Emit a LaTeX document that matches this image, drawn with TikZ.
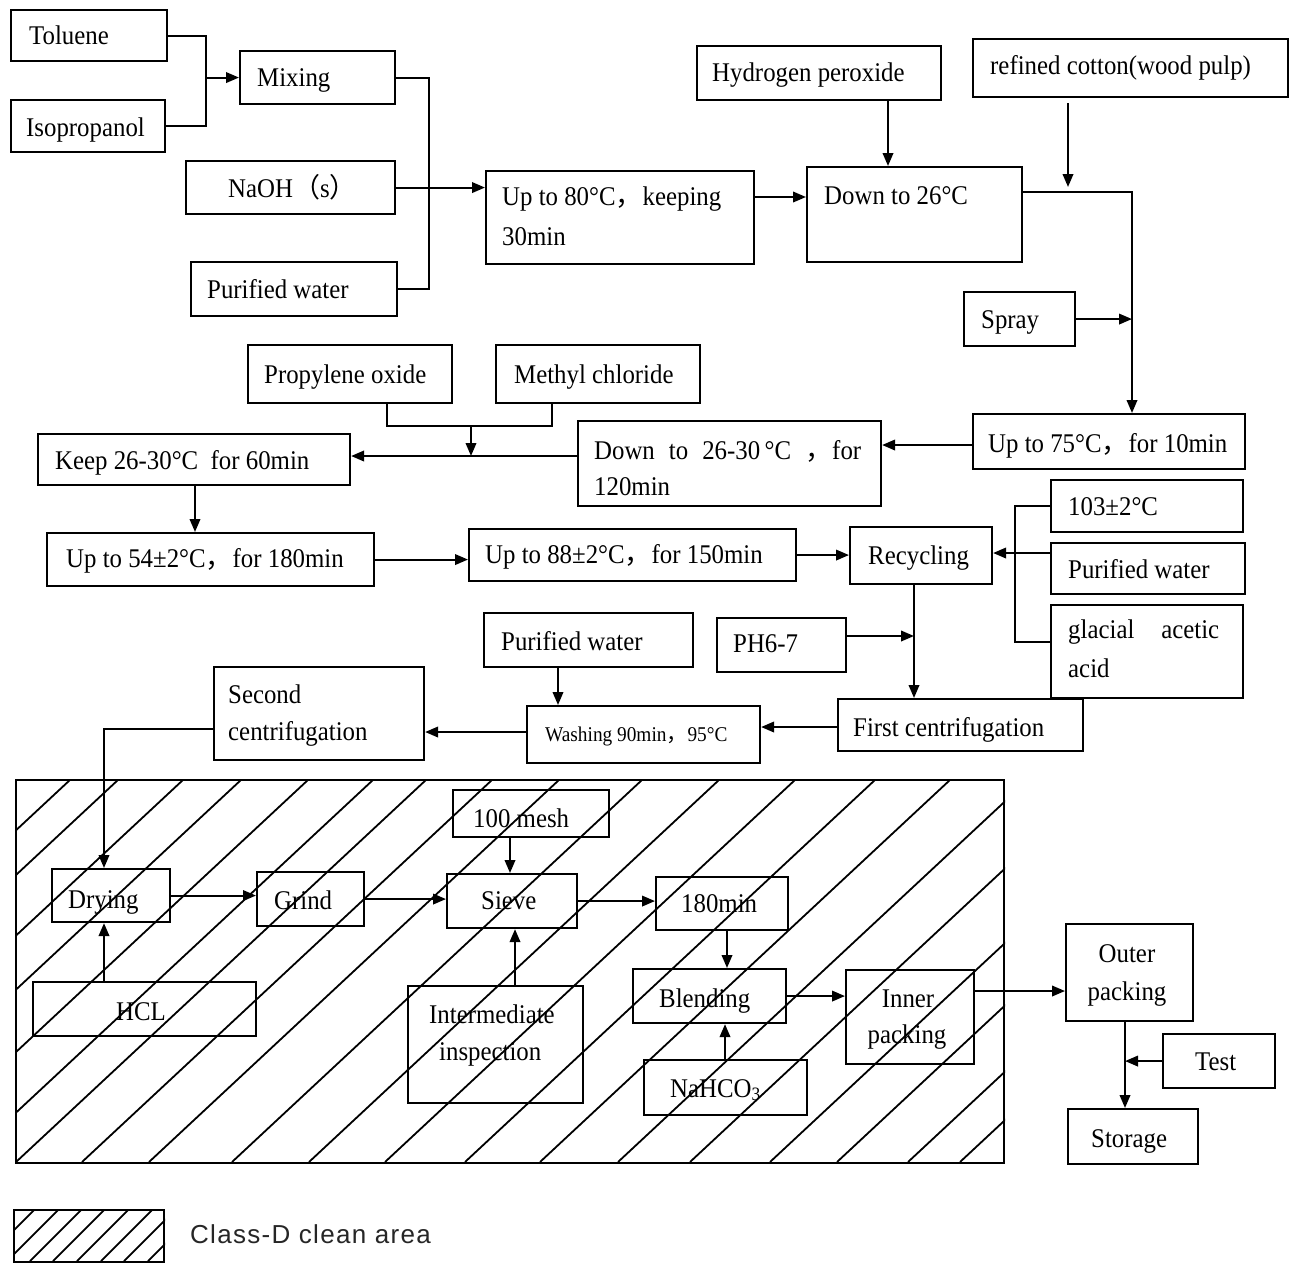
\documentclass[tikz,border=0pt]{standalone}
\usepackage{fontspec}
\setmainfont[FakeStretch=0.92]{Liberation Serif}
\newfontfamily\cjkf{Noto Sans CJK SC}
\newfontfamily\legf[LetterSpace=5]{Liberation Sans}
\usetikzlibrary{arrows.meta}
\newcommand\fw{{\cjkf ，}}
\newcommand\fwo{{\cjkf （}}
\newcommand\fwc{{\cjkf ）}}
\newcommand\bx[5]{\node[box, minimum width={#4-#2}, minimum height={#5-#3}] (#1) at (#2,#3) {};}
\begin{document}
\begin{tikzpicture}[x=1pt,y=-1pt,
  box/.style={draw, line width=2.1pt, inner sep=0pt, anchor=north west},
  txt/.style={inner sep=0pt, anchor=base west, font=\fontsize{27}{30}\selectfont},
  ln/.style={line width=2.1pt},
  arr/.style={line width=2.1pt, -{Triangle[length=13pt,width=10.5pt]}},
  hatch/.style={line width=1.8pt}]
\useasboundingbox (0,0) rectangle (1289,1262);

% ---------- boxes ----------
\bx{tol}{10}{9}{166}{60}
\bx{iso}{10}{99}{164}{151}
\bx{mix}{239}{50}{394}{103}
\bx{naoh}{185}{160}{394}{213}
\bx{pw1}{190}{261}{396}{315}
\bx{up80}{485}{170}{753}{263}
\bx{hp}{696}{45}{940}{99}
\bx{cot}{972}{38}{1287}{96}
\bx{d26}{806}{166}{1021}{261}
\bx{spray}{963}{291}{1074}{345}
\bx{up75}{972}{413}{1244}{468}
\bx{po}{247}{344}{451}{402}
\bx{mc}{495}{344}{699}{402}
\bx{keep}{37}{433}{349}{484}
\bx{d2630}{577}{420}{880}{505}
\bx{up54}{46}{532}{373}{585}
\bx{up88}{468}{528}{795}{580}
\bx{rec}{849}{526}{991}{583}
\bx{t103}{1050}{479}{1242}{531}
\bx{pw2}{1050}{542}{1244}{593}
\bx{gla}{1050}{604}{1242}{697}
\bx{ph}{716}{617}{845}{671}
\bx{fc}{837}{698}{1082}{750}
\bx{pw3}{483}{612}{692}{666}
\bx{wash}{526}{705}{759}{762}
\bx{sec}{213}{666}{423}{759}
\bx{clean}{15}{779}{1003}{1162}
\bx{mesh}{452}{789}{608}{836}
\bx{dry}{51}{868}{169}{921}
\bx{grind}{256}{871}{363}{925}
\bx{sieve}{446}{873}{576}{927}
\bx{hcl}{32}{981}{255}{1035}
\bx{inter}{407}{985}{582}{1102}
\bx{m180}{655}{876}{787}{929}
\bx{blend}{632}{968}{785}{1022}
\bx{inner}{845}{969}{973}{1063}
\bx{nahco}{643}{1059}{806}{1114}
\bx{outer}{1065}{923}{1192}{1020}
\bx{test}{1162}{1033}{1274}{1087}
\bx{stor}{1067}{1108}{1197}{1163}
\bx{leg}{13}{1209}{163}{1261}

% ---------- hatching ----------
\begin{scope}
\clip (clean.north west) rectangle (clean.south east);
\foreach \xb in {-340,-292,-227,-169,-102,-37,16,82,149,232,309,385,465,540,618,690,770,837,908,960}
  \draw[hatch] (\xb,1162) -- ++(411,-383);
\end{scope}
\begin{scope}
\clip (leg.north west) rectangle (leg.south east);
\foreach \xb in {-17,7,30,53,77,101,124,148}
  \draw[hatch] (\xb,1261) -- ++(52,-52);
\end{scope}

% ---------- texts ----------
\node[txt] (ttol) at (29,44) {Toluene};
\node[txt] (tiso) at (26,136) {Isopropanol};
\node[txt] (tmix) at (257,86) {Mixing};
\node[txt] (tnaoh) at (228,197) {NaOH\fwo s\fwc};
\node[txt] (tpw1) at (207,298) {Purified water};
\node[txt] (tup80a) at (502,205) {Up to 80°C\fw keeping};
\node[txt] (tup80b) at (502,245) {30min};
\node[txt] (thp) at (712,81) {Hydrogen peroxide};
\node[txt] (tcot) at (990,74) {refined cotton(wood pulp)};
\node[txt] (td26) at (824,204) {Down to 26°C};
\node[txt] (tspray) at (981,328) {Spray};
\node[txt] (tup75) at (988,452) {Up to 75°C\fw for 10min};
\node[txt] (tpo) at (264,383) {Propylene oxide};
\node[txt] (tmc) at (514,383) {Methyl chloride};
\node[txt] (tkeep) at (55,469) {Keep 26-30°C \ for 60min};
\node[txt] (td2630a) at (594,459) {\makebox[267pt][s]{Down to 26-30\,°C \fw for}};
\node[txt] (td2630b) at (594,495) {120min};
\node[txt] (tup54) at (66,567) {Up to 54±2°C\fw for 180min};
\node[txt] (tup88) at (485,563) {Up to 88±2°C\fw for 150min};
\node[txt] (trec) at (868,564) {Recycling};
\node[txt] (t103t) at (1068,515) {103±2°C};
\node[txt] (tpw2) at (1068,578) {Purified water};
\node[txt] (tgla1) at (1068,638) {\makebox[151pt][s]{glacial acetic}};
\node[txt] (tgla2) at (1068,677) {acid};
\node[txt] (tph) at (733,652) {PH6-7};
\node[txt] (tpw3) at (501,650) {Purified water};
\node[txt] (tfc) at (853,736) {First centrifugation};
\node[txt, font=\fontsize{21}{24}\selectfont] (twash) at (545,741) {Washing 90min\fw 95°C};
\node[txt] (tsec1) at (228,703) {Second};
\node[txt] (tsec2) at (228,740) {centrifugation};
\node[txt] (tmesh) at (473,827) {100 mesh};
\node[txt] (tdry) at (68,908) {Drying};
\node[txt] (tgrind) at (274,909) {Grind};
\node[txt] (tsieve) at (481,909) {Sieve};
\node[txt] (thcl) at (116,1020) {HCL};
\node[txt] (tint1) at (429,1023) {Intermediate};
\node[txt] (tint2) at (439,1060) {inspection};
\node[txt] (tm180) at (681,912) {180min};
\node[txt] (tblend) at (659,1007) {Blending};
\node[txt, anchor=base] (tin1) at (908,1007) {Inner};
\node[txt, anchor=base] (tin2) at (907,1043) {packing};
\node[txt] (tnahco) at (670,1097) {NaHCO\textsubscript{3}};
\node[txt, anchor=base] (tout1) at (1127,962) {Outer};
\node[txt, anchor=base] (tout2) at (1127,1000) {packing};
\node[txt] (ttest) at (1195,1070) {Test};
\node[txt] (tstor) at (1091,1147) {Storage};
\node[txt, font=\legf\fontsize{26}{30}\selectfont, text={black!85}] (tleg) at (190,1243) {Class-D clean area};

% ---------- helper coordinates ----------
\coordinate (X206) at (206,0);  \coordinate (X429) at (429,0);
\coordinate (Y197) at (0,197);  \coordinate (Y192) at (0,192);
\coordinate (X1068) at (1068,0);\coordinate (Y103) at (0,103);
\coordinate (Y187) at (0,187);  \coordinate (X888) at (888,0);
\coordinate (X1132) at (1132,0);\coordinate (Y445) at (0,445);
\coordinate (X387) at (387,0);  \coordinate (X552) at (552,0);
\coordinate (Y426) at (0,426);  \coordinate (X471) at (471,0);
\coordinate (Y456) at (0,456);  \coordinate (X195) at (195,0);
\coordinate (X1015) at (1015,0);\coordinate (Y553) at (0,553);
\coordinate (Y642) at (0,642);  \coordinate (X914) at (914,0);
\coordinate (Y636) at (0,636);  \coordinate (Y727) at (0,727);
\coordinate (X558) at (558,0);  \coordinate (Y732) at (0,732);
\coordinate (Y729) at (0,729);  \coordinate (X104) at (104,0);
\coordinate (X510) at (510,0);  \coordinate (X515) at (515,0);
\coordinate (X727) at (727,0);  \coordinate (X725) at (725,0);
\coordinate (Y991) at (0,991);  \coordinate (X1125) at (1125,0);

% ---------- connectors ----------
\draw[ln] (tol.east) -| (X206 |- iso.east) -- (iso.east);
\draw[arr] (X206 |- mix.west) -- (mix.west);
\draw[ln] (mix.east) -| (X429 |- pw1.east) -- (pw1.east);
\draw[arr] (naoh.east) -- (naoh.east -| up80.west);
\draw[arr] (up80.east |- Y197) -- (d26.west |- Y197);
\draw[arr] (hp.south -| X888) -- (d26.north -| X888);
\draw[arr] (X1068 |- Y103) -- (X1068 |- Y187);
\draw[arr] (d26.east |- Y192) -| (X1132 |- up75.north);
\draw[arr] (spray.east) -- (X1132 |- spray.east);
\draw[arr] (up75.west |- Y445) -- (d2630.east |- Y445);
\draw[arr] (d2630.west |- Y456) -- (keep.east |- Y456);
\draw[ln] (po.south -| X387) |- (X552 |- Y426) -- (mc.south -| X552);
\draw[arr] (X471 |- Y426) -- (X471 |- Y456);
\draw[arr] (keep.south -| X195) -- (up54.north -| X195);
\draw[arr] (up54.east) -- (up54.east -| up88.west);
\draw[arr] (up88.east) -- (up88.east -| rec.west);
\draw[ln] (t103.west) -| (X1015 |- Y642) -- (gla.west |- Y642);
\draw[arr] (pw2.west |- Y553) -- (rec.east |- Y553);
\draw[arr] (rec.south -| X914) -- (fc.north -| X914);
\draw[arr] (ph.east |- Y636) -- (X914 |- Y636);
\draw[arr] (fc.west |- Y727) -- (wash.east |- Y727);
\draw[arr] (pw3.south -| X558) -- (wash.north -| X558);
\draw[arr] (wash.west |- Y732) -- (sec.east |- Y732);
\draw[arr] (sec.west |- Y729) -| (X104 |- dry.north);
\draw[arr] (hcl.north -| X104) -- (dry.south -| X104);
\draw[arr] (dry.east) -- (dry.east -| grind.west);
\draw[arr] (grind.east) -- (grind.east -| sieve.west);
\draw[arr] (mesh.south -| X510) -- (sieve.north -| X510);
\draw[arr] (inter.north -| X515) -- (sieve.south -| X515);
\draw[arr] (sieve.east) -- (sieve.east -| m180.west);
\draw[arr] (m180.south -| X727) -- (blend.north -| X727);
\draw[arr] (nahco.north -| X725) -- (blend.south -| X725);
\draw[arr] (blend.east) -- (blend.east -| inner.west);
\draw[arr] (inner.east |- Y991) -- (outer.west |- Y991);
\draw[arr] (outer.south -| X1125) -- (stor.north -| X1125);
\draw[arr] (test.west) -- (X1125 |- test.west);
\end{tikzpicture}
\end{document}
